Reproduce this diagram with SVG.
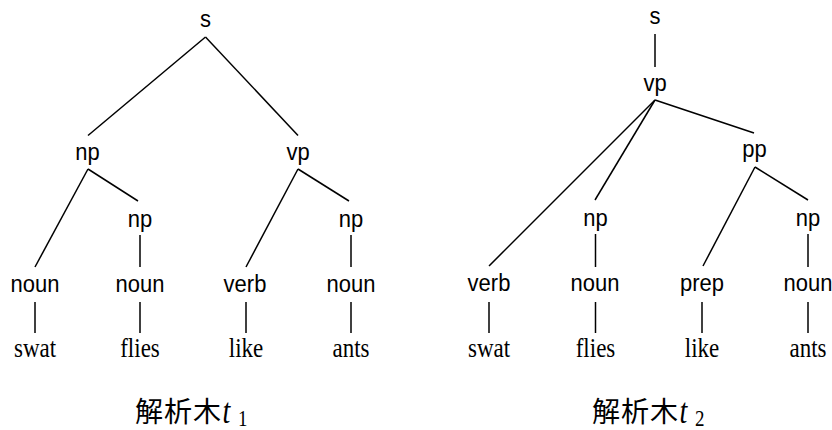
<svg xmlns="http://www.w3.org/2000/svg" width="832" height="430" viewBox="0 0 832 430">
  <style>
    .cat { font-family: "Liberation Sans", Arial, sans-serif; font-size: 22px; fill: #000; text-anchor: middle; }
    .word { font-family: "Liberation Serif", "Times New Roman", serif; font-size: 23px; fill: #000; text-anchor: middle; }
    .cap { font-family: "Noto Sans CJK JP", "Noto Sans CJK SC", sans-serif; font-size: 28px; letter-spacing: 1px; fill: #000; }
    .mi { font-family: "Liberation Serif", "Times New Roman", serif; font-style: italic; fill: #000; }
    .sub { font-family: "Liberation Serif", "Times New Roman", serif; fill: #000; }
    .edges line { stroke: #000; stroke-width: 1.5; stroke-linecap: butt; }
  </style>
  <rect width="832" height="430" fill="#fff"/>

  <!-- Tree t1 -->
  <g id="t1">
    <g class="edges" id="t1-edges">
      <line x1="205.5" y1="37" x2="88" y2="135.5"/>
      <line x1="205.5" y1="37" x2="298" y2="135.5"/>
      <line x1="88" y1="169" x2="35" y2="267"/>
      <line x1="88" y1="169" x2="138" y2="201"/>
      <line x1="298" y1="169" x2="246" y2="267"/>
      <line x1="298" y1="169" x2="349" y2="201"/>
      <line x1="140" y1="235" x2="140" y2="267"/>
      <line x1="351" y1="235" x2="351" y2="267"/>
      <line x1="35" y1="302" x2="35" y2="333"/>
      <line x1="140" y1="302" x2="140" y2="333"/>
      <line x1="246" y1="302" x2="246" y2="333"/>
      <line x1="351" y1="302" x2="351" y2="333"/>
    </g>
    <g id="t1-s"><text class="cat" transform="translate(205.5,27) scale(1,1.12)">s</text></g>
    <g id="t1-np"><text class="cat" transform="translate(87.5,160) scale(1,1.12)">np</text></g>
    <g id="t1-vp"><text class="cat" transform="translate(298,160) scale(1,1.12)">vp</text></g>
    <g id="t1-np2"><text class="cat" transform="translate(140,226.5) scale(1,1.12)">np</text></g>
    <g id="t1-np4"><text class="cat" transform="translate(351,226.5) scale(1,1.12)">np</text></g>
    <g id="t1-noun1"><text class="cat" transform="translate(35,291.5) scale(1,1.12)">noun</text></g>
    <g id="t1-noun2"><text class="cat" transform="translate(140,291.5) scale(1,1.12)">noun</text></g>
    <g id="t1-verb"><text class="cat" transform="translate(245,291.5) scale(1,1.12)">verb</text></g>
    <g id="t1-noun4"><text class="cat" transform="translate(351,291.5) scale(1,1.12)">noun</text></g>
    <g id="t1-swat"><text class="word" transform="translate(35,357) scale(1,1.2)">swat</text></g>
    <g id="t1-flies"><text class="word" transform="translate(140,357) scale(1,1.2)">flies</text></g>
    <g id="t1-like"><text class="word" transform="translate(246,357) scale(1,1.2)">like</text></g>
    <g id="t1-ants"><text class="word" transform="translate(351,357) scale(1,1.2)">ants</text></g>
    <g id="t1-caption">
      <text class="cap" x="135" y="422">解析木</text>
      <text class="mi" font-size="28" transform="translate(222.5,422.5) scale(1,1.25)">t</text>
      <text class="sub" font-size="19" transform="translate(238,426) scale(1,1.25)">1</text>
    </g>
  </g>

  <!-- Tree t2 -->
  <g id="t2">
    <g class="edges" id="t2-edges">
      <line x1="655" y1="34" x2="655" y2="67"/>
      <line x1="655" y1="100" x2="489" y2="266"/>
      <line x1="655" y1="100" x2="595" y2="200"/>
      <line x1="655" y1="100" x2="754" y2="133"/>
      <line x1="755" y1="167" x2="703" y2="266"/>
      <line x1="755" y1="167" x2="808" y2="200"/>
      <line x1="595.5" y1="234" x2="595.5" y2="267"/>
      <line x1="808" y1="234" x2="808" y2="267"/>
      <line x1="489" y1="302" x2="489" y2="333"/>
      <line x1="595.5" y1="302" x2="595.5" y2="333"/>
      <line x1="702" y1="302" x2="702" y2="333"/>
      <line x1="808" y1="302" x2="808" y2="333"/>
    </g>
    <g id="t2-s"><text class="cat" transform="translate(655,24) scale(1,1.12)">s</text></g>
    <g id="t2-vp"><text class="cat" transform="translate(655,91) scale(1,1.12)">vp</text></g>
    <g id="t2-pp"><text class="cat" transform="translate(754.5,157) scale(1,1.12)">pp</text></g>
    <g id="t2-np2"><text class="cat" transform="translate(595.5,225.5) scale(1,1.12)">np</text></g>
    <g id="t2-np4"><text class="cat" transform="translate(808,225.5) scale(1,1.12)">np</text></g>
    <g id="t2-verb"><text class="cat" transform="translate(489,291) scale(1,1.12)">verb</text></g>
    <g id="t2-noun2"><text class="cat" transform="translate(595,291) scale(1,1.12)">noun</text></g>
    <g id="t2-prep"><text class="cat" transform="translate(702,291) scale(1,1.12)">prep</text></g>
    <g id="t2-noun4"><text class="cat" transform="translate(808,291) scale(1,1.12)">noun</text></g>
    <g id="t2-swat"><text class="word" transform="translate(489,357) scale(1,1.2)">swat</text></g>
    <g id="t2-flies"><text class="word" transform="translate(595.5,357) scale(1,1.2)">flies</text></g>
    <g id="t2-like"><text class="word" transform="translate(702,357) scale(1,1.2)">like</text></g>
    <g id="t2-ants"><text class="word" transform="translate(808,357) scale(1,1.2)">ants</text></g>
    <g id="t2-caption">
      <text class="cap" x="592" y="422">解析木</text>
      <text class="mi" font-size="28" transform="translate(679.5,422.5) scale(1,1.25)">t</text>
      <text class="sub" font-size="19" transform="translate(695,426) scale(1,1.25)">2</text>
    </g>
  </g>
</svg>
